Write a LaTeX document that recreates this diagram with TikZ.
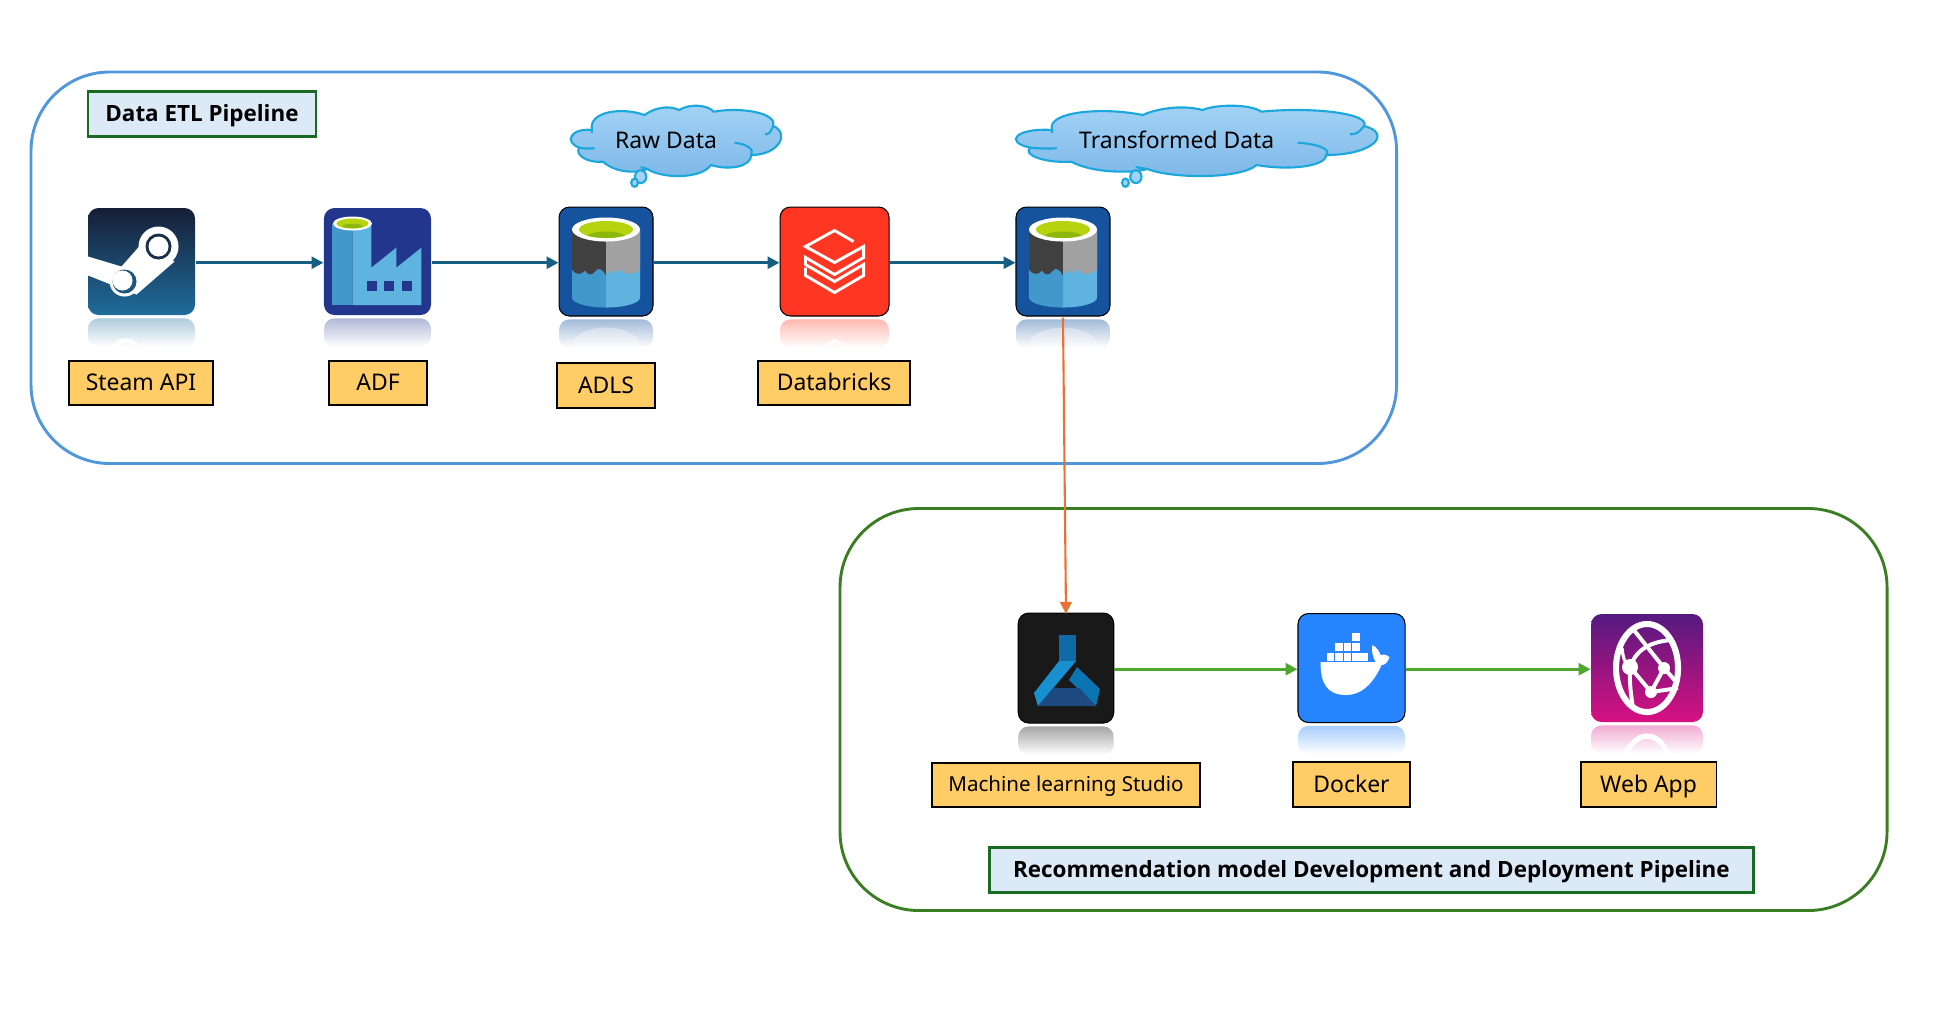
\documentclass[tikz,border=0pt]{standalone}
\usepackage{fontspec}
\setmainfont{Noto Sans}
\newfontfamily\titlefont{Open Sans}
\usetikzlibrary{arrows.meta,positioning}
\definecolor{etlblue}{HTML}{4F96DA}
\definecolor{recgreen}{HTML}{3B7D23}
\definecolor{titlefill}{HTML}{DCE9F7}
\definecolor{titleline}{HTML}{196B24}
\definecolor{labelfill}{HTML}{FFCC66}
\definecolor{flowblue}{HTML}{156082}
\definecolor{flowgreen}{HTML}{4EA72E}
\definecolor{floworange}{HTML}{E97132}
\definecolor{adlsblue}{HTML}{15539E}
\definecolor{adfblue}{HTML}{21368C}
\definecolor{lightcyan}{HTML}{5FB3DF}
\definecolor{darkcyan}{HTML}{4298CB}
\definecolor{limegreen}{HTML}{B5D30F}
\definecolor{dimgreen}{HTML}{8CB80C}
\definecolor{cloudline}{HTML}{1AA7DC}
\definecolor{cloudtop}{HTML}{A3D2F5}
\definecolor{cloudbot}{HTML}{7DB8E8}
\definecolor{steamtop}{HTML}{171E36}
\definecolor{steambot}{HTML}{1F6C9C}
\definecolor{webtop}{HTML}{541A80}
\definecolor{webbot}{HTML}{D81081}
\definecolor{brickred}{HTML}{FF3621}
\definecolor{dockerblue}{HTML}{2684FF}
\definecolor{flaskneck}{HTML}{0E6BA8}
\definecolor{flaskleft}{HTML}{1890CF}
\definecolor{flaskright}{HTML}{0B74B2}
\definecolor{flaskbase}{HTML}{1D4A80}
\tikzset{
  pipebox/.style={draw=#1,line width=1.1pt,rounded corners=1.05cm,inner sep=0},
  titlebox/.style={draw=titleline,fill=titlefill,line width=1pt,minimum height=0.6cm,inner sep=0,font=\titlefont\bfseries\fontsize{8.5}{10}\selectfont,text height=0.55em,text depth=0pt},
  namebox/.style={draw=black,fill=labelfill,line width=0.7pt,minimum height=0.59cm,inner sep=0,font=\fontsize{8.7}{10}\selectfont,text height=0.6em,text depth=0pt},
  cloudtext/.style={font=\fontsize{8.7}{10}\selectfont,inner sep=0,text height=0.6em,text depth=0pt},
  icon/.style={rectangle,rounded corners=0.14cm,inner sep=0},
  mirror/.style={rectangle,rounded corners=0.14cm,inner sep=0,minimum height=0.38cm,top color=#1,bottom color=white},
  flow/.style={-{Triangle[length=4.5pt,width=4.5pt]},line width=1pt,draw=flowblue,fill=flowblue,transform canvas={yshift=-0.45pt}},
  local/.style={shift={(#1.center)},x=0.01333cm,y=-0.01333cm},
}
% the cloud, stretched into its box (left, top, width, height)
\newcommand{\thoughtcloud}[4]{
  \begin{scope}[shift={(#1,#2)},x=#3cm/377,y=-#4cm/213,line width=0.8pt,draw=cloudline]
    \draw[top color=cloudtop,bottom color=cloudbot] (37,75) .. controls (0,68) and (-15,110) .. (14,128)
      .. controls (5,150) and (30,175) .. (57,170)
      .. controls (80,205) and (120,205) .. (137,192)
      .. controls (165,222) and (235,222) .. (252,180)
      .. controls (285,197) and (325,185) .. (325,150)
      .. controls (375,150) and (395,85) .. (365,63)
      .. controls (372,25) and (310,5) .. (257,20)
      .. controls (245,-3) and (210,-3) .. (195,15)
      .. controls (175,0) and (150,8) .. (132,30)
      .. controls (90,5) and (30,20) .. (37,75) -- cycle;
    \draw (37,75) .. controls (38,80) .. (37,85);
    \draw (14,128) .. controls (25,131) .. (42,130);
    \draw (295,113) .. controls (320,118) and (330,135) .. (325,150);
    \draw (350,88) .. controls (358,86) .. (365,63);
    \draw (125,186) -- (137,192);
    \draw[fill=cloudtop] (125,215) ellipse (0.075cm and 0.085cm);
    \draw[fill=cloudtop] (114,233) ellipse (0.045cm and 0.055cm);
  \end{scope}
}
% the lake icon comes twice
\newcommand{\lakeicon}[1]{
  \begin{scope}[local=#1]
    \fill[lightcyan] (0,-32) -- (34,-32) -- (34,36) arc (0:90:34 and 10) -- cycle;
    \fill[darkcyan] (0,-32) -- (-34,-32) -- (-34,36) arc (180:90:34 and 10) -- cycle;
    \fill[black!75] (-34,-32) -- (0,-32) -- (0,14) .. controls (-4,6) and (-8,6) .. (-11,10) .. controls (-14,14) and (-18,14) .. (-21,9) .. controls (-25,14) and (-31,13) .. (-34,8) -- cycle;
    \fill[black!37] (34,-32) -- (0,-32) -- (0,14) .. controls (3,8) and (6,8) .. (9,12) .. controls (12,8) and (15,6) .. (18,11) .. controls (22,14) and (30,12) .. (34,8) -- cycle;
    \fill[white] (0,-32) ellipse (34 and 12);
    \fill[limegreen] (0,-32) ellipse (27 and 8.5);
    \begin{scope}
      \clip (0,-32) ellipse (27 and 8.5);
      \fill[dimgreen] (0,-24) ellipse (20 and 6);
    \end{scope}
    % pale cylinder in the reflection
    \begin{scope}
      \clip (-34,64) rectangle (34,84);
      \fill[white,opacity=0.35] (0,84) ellipse (34 and 18);
    \end{scope}
  \end{scope}
}
\begin{document}
\begin{tikzpicture}
  \useasboundingbox (0,0) rectangle (25.773,13.44);

% Data ETL pipeline
  \node[pipebox=etlblue,minimum width=18.207cm,minimum height=5.22cm] (etl) at (9.517,9.87) {};
  \node[titlebox,minimum width=3.04cm] (etltitle) at (2.693,11.92) {Data ETL Pipeline};

  \thoughtcloud{7.62}{12.04}{2.78}{0.947}
  \node[cloudtext] (rawtext) at (8.88,11.567) {Raw Data};

  \thoughtcloud{13.56}{12.04}{4.78}{0.947}
  \node[cloudtext] (transtext) at (15.69,11.567) {Transformed Data};

  \node[icon,top color=steamtop,bottom color=steambot,minimum width=1.427cm,minimum height=1.427cm] (steam) at (1.887,9.953) {};
  \node[icon,fill=adfblue,minimum width=1.427cm,minimum height=1.427cm] (adf) at (5.033,9.953) {};
  \node[icon,fill=adlsblue,draw=black,minimum width=1.253cm,minimum height=1.453cm] (adls) at (8.08,9.953) {};
  \node[icon,fill=brickred,draw=black,minimum width=1.453cm,minimum height=1.453cm] (databricks) at (11.127,9.953) {};
  \node[icon,fill=adlsblue,draw=black,minimum width=1.253cm,minimum height=1.453cm] (lake) at (14.173,9.953) {};

  \node[mirror=steambot!35!white,minimum width=1.427cm,below=0.03cm of steam] (steamm) {};
  \node[mirror=adfblue!35!white,minimum width=1.427cm,below=0.03cm of adf] (adfm) {};
  \node[mirror=adlsblue!40!white,minimum width=1.253cm,below=0.03cm of adls] (adlsm) {};
  \node[mirror=brickred!35!white,minimum width=1.453cm,below=0.03cm of databricks] (databricksm) {};
  \node[mirror=adlsblue!40!white,minimum width=1.253cm,below=0.03cm of lake] (lakem) {};

  \node[namebox,minimum width=1.92cm] (steamname) at (1.88,8.335) {Steam API};
  \node[namebox,minimum width=1.307cm] (adfname) at (5.04,8.335) {ADF};
  \node[namebox,minimum width=1.307cm] (adlsname) at (8.08,8.3) {ADLS};
  \node[namebox,minimum width=2.027cm] (databricksname) at (11.12,8.335) {Databricks};

% Steam logo
  \begin{scope}[local=steam]
    \begin{scope}
      \clip[rounded corners=0.14cm] (-53.5,-53.5) rectangle (53.5,53.5);
      \fill[white] (-53.5,-5) -- (-20,5) -- (2,-20) -- (33,0) -- (-5,33) -- (-53.5,14) -- cycle;
      \fill[white] (17,-15) circle (20);
      \fill[steamtop!80!steambot] (17,-15) circle (13);
      \fill[white] (17,-15) circle (10);
      \fill[white] (-17,20) circle (15);
      \fill[steambot!70!steamtop] (-17,20) circle (12);
      \fill[white] (-19,19) circle (10);
    \end{scope}
    \begin{scope}
      \clip (-40,60) rectangle (10,84);
      \draw[white,line width=1.5pt] (-16,93) circle (14);
    \end{scope}
  \end{scope}

% ADF logo
  \begin{scope}[local=adf]
    \fill[lightcyan] (-25,-38) -- (-6,-38) -- (-6,6) -- (19,-14) -- (19,6) -- (44,-14) -- (44,43.5) -- (-25,43.5) -- cycle;
    \fill[darkcyan] (-45,-38) rectangle (-25,43.5);
    \foreach \wx in {-10,7,25} {
      \fill[adfblue] (\wx,19) rectangle ++(10,10);
    }
    \fill[white] (-25,-38) ellipse (19.5 and 7);
    \fill[limegreen] (-25,-38) ellipse (16 and 5);
    \fill[dimgreen] (-25,-35.5) ellipse (10 and 2.2);
  \end{scope}

  \lakeicon{adls}
  \lakeicon{lake}

% Databricks logo
  \begin{scope}[local=databricks]
    \draw[white,line width=1.1pt] (19,-20) -- (0,-31) -- (-29,-15) -- (0,1) -- (29,-15) -- (29,-4) -- (0,13) -- (-29,-4) -- (-29,3) -- (0,20) -- (29,3) -- (29,14) -- (0,31) -- (-29,14) -- (-29,6);
    \draw[white,line width=1.1pt] (-8,84) -- (0,79) -- (8,84);
  \end{scope}

  \draw[flow] (steam) -- (adf);
  \draw[flow] (adf) -- (adls);
  \draw[flow] (adls) -- (databricks);
  \draw[flow] (databricks) -- (lake);

% Recommendation pipeline
  \node[pipebox=recgreen,minimum width=13.96cm,minimum height=5.36cm] (rec) at (18.18,3.98) {};
  \node[titlebox,minimum width=10.19cm] (rectitle) at (18.285,1.84) {Recommendation model Development and Deployment Pipeline};

  \node[icon,fill=black!90,draw=black,minimum width=1.273cm,minimum height=1.467cm] (studio) at (14.213,4.533) {};
  \node[icon,fill=dockerblue,draw=black,minimum width=1.427cm,minimum height=1.453cm] (docker) at (18.02,4.533) {};
  \node[icon,top color=webtop,bottom color=webbot,minimum width=1.493cm,minimum height=1.44cm] (webapp) at (21.96,4.533) {};

  \node[mirror=black!35,minimum width=1.273cm,below=0.03cm of studio] (studiom) {};
  \node[mirror=dockerblue!40!white,minimum width=1.427cm,below=0.03cm of docker] (dockerm) {};
  \node[mirror=webbot!35!white,minimum width=1.493cm,below=0.03cm of webapp] (webappm) {};

  \node[namebox,minimum width=3.58cm,font=\fontsize{7.8}{10}\selectfont,text height=0.5em] (studioname) at (14.213,2.97) {Machine learning Studio};
  \node[namebox,minimum width=1.56cm] (dockername) at (18.02,2.98) {Docker};
  \node[namebox,minimum width=1.81cm] (webappname) at (21.98,2.98) {Web App};

% Studio logo
  \begin{scope}[local=studio]
    \fill[flaskneck] (-7,-33) rectangle (10,-7);
    \fill[flaskleft] (-7,-7) -- (10,-7) -- (-28,38) -- (-32,25) -- cycle;
    \fill[flaskright] (11,-1) -- (34,21) -- (30,38) -- (3,12) -- cycle;
    \fill[flaskbase] (-12.5,20) -- (13.5,20) -- (30,38) -- (-28,38) -- cycle;
  \end{scope}

% Docker logo
  \begin{scope}[local=docker]
    \fill[white] (-31,-6) -- (24,-6) .. controls (20,-14) and (20,-20) .. (21,-23) .. controls (26,-20) and (28,-16) .. (29,-13) .. controls (33,-14) and (36,-13) .. (38,-11) .. controls (36,-5) and (33,-3) .. (30,-3) .. controls (22,15) and (10,27) .. (-5,27) .. controls (-25,27) and (-31,15) .. (-31,-6) -- cycle;
    \foreach \bx in {-25,-16.5,-8,0.5,8.5} {
      \fill[white] (\bx,-15) rectangle ++(7.5,7.5);
    }
    \foreach \bx in {-16.5,-8,0.5} {
      \fill[white] (\bx,-25) rectangle ++(7.5,7.5);
    }
    \fill[white] (0.5,-35) rectangle ++(7.5,7.5);
  \end{scope}

% Web App logo
  \begin{scope}[local=webapp]
    \draw[white,line width=2.3pt] (0,0) ellipse (31 and 44);
    \draw[white,line width=1.5pt] (-17,-1) .. controls (-12,-16) and (0,-26) .. (24,-28);
    \draw[white,line width=1.5pt] (-14,-39) -- (17,0) -- (30,15);
    \draw[white,line width=1.5pt] (-17,-1) -- (4,24) -- (17,0);
    \draw[white,line width=1.5pt] (4,24) -- (31,20);
    \draw[white,line width=1.5pt] (-17,-1) .. controls (-18,12) and (-16,28) .. (-14,40);
    \draw[white,line width=1.2pt] (-25,-20) .. controls (-24,-10) and (-22,-4) .. (-17,-1);
    \fill[white] (-17,-1) circle (8);
    \fill[white] (17,0) circle (6);
    \fill[white] (4,24) circle (6);
    \begin{scope}
      \clip (-56,60) rectangle (56,84);
      \draw[white,line width=2pt] (0,112) ellipse (26 and 44);
    \end{scope}
  \end{scope}

  \draw[flow,draw=flowgreen,fill=flowgreen,line width=1.1pt] (studio) -- (docker);
  \draw[flow,draw=flowgreen,fill=flowgreen,line width=1.1pt] (docker) -- (webapp);
  \draw[flow,draw=floworange,fill=floworange,line width=0.8pt] (lake.south) -- (studio.north);
\end{tikzpicture}
\end{document}
